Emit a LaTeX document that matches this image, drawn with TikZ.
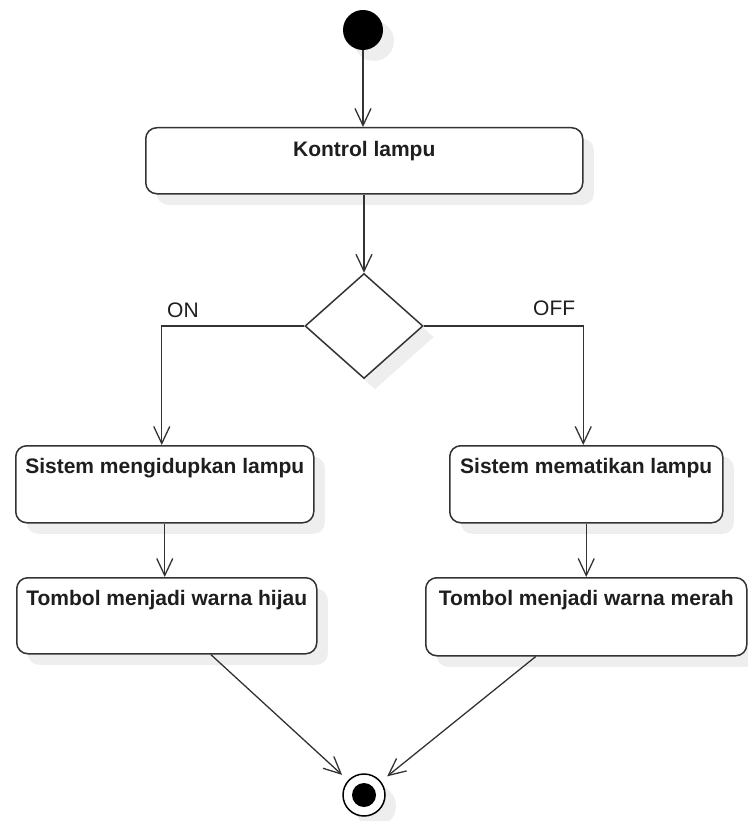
\documentclass[tikz,border=0pt]{standalone}
\usepackage{fontspec}
\setmainfont{Liberation Sans}
\usetikzlibrary{shapes.geometric,arrows.meta,shadows,calc}
\definecolor{edge}{HTML}{333333}
\definecolor{shade}{HTML}{EEEEEE}
\definecolor{ink}{HTML}{1E1E1E}
\tikzset{
  softshadow/.style={general shadow={fill=shade, shadow xshift=11pt, shadow yshift=-11pt}},
  activity/.style={draw=edge, line width=1.5pt, rounded corners=11pt, fill=white,
    softshadow, inner sep=0pt, anchor=north west, text height=28pt,
    font=\fontsize{21}{25}\selectfont\bfseries, text=ink},
  flow/.style={draw=edge, line width=1.3pt,
    -{Straight Barb[length=17pt,width=16pt]}},
  guard/.style={font=\fontsize{21}{25}\selectfont, text=ink, inner sep=0pt, anchor=base west},
}
\begin{document}
\begin{tikzpicture}[x=1pt,y=-1pt]
  \useasboundingbox (0,0) rectangle (747,821);

  % initial and final states
  \node[circle, fill=black, minimum size=40pt, inner sep=0pt, softshadow] (start) at (363,30) {};
  \node[circle, draw=black, line width=1.5pt, fill=white, minimum size=42pt, inner sep=0pt, softshadow,
        path picture={\fill[black] (path picture bounding box.center) circle (12pt);}] (fin) at (364,795) {};

  % actions
  \node[activity, minimum width=437pt, text height=29pt, text depth=37pt] (kontrol) at (145,127) {Kontrol lampu};
  \node[activity, minimum width=298pt, text depth=49pt] (b1l) at (15,445) {Sistem mengidupkan lampu};
  \node[activity, minimum width=300pt, text depth=48pt] (b2l) at (16,577) {Tombol menjadi warna hijau};
  \node[activity, minimum width=273pt, text depth=49pt] (b1r) at (449,445) {Sistem mematikan lampu};
  \node[activity, minimum width=321pt, text depth=50pt] (b2r) at (425,577) {Tombol menjadi warna merah};

  % decision
  \node[diamond, draw=edge, line width=1.5pt, fill=white, minimum width=118pt, minimum height=105pt,
        inner sep=0pt, softshadow] (dec) at (364,326) {};

  % guards
  \node[guard] (on) at (167,317) {ON};
  \node[guard] (off) at (533,315) {OFF};

  % control flow
  \draw[flow] (start) -- (start |- kontrol.north);
  \draw[flow] (kontrol.south -| dec.north) -- (dec.north);
  \draw[flow] (dec.west) -| ([xshift=-3pt]b1l.north);
  \draw[flow] (dec.east) -| ([xshift=-3pt]b1r.north);
  \draw[flow] (b1l.south) -- (b1l.south |- b2l.north);
  \draw[flow] (b1r.south) -- (b1r.south |- b2r.north);
  \draw[flow, shorten >=8pt] ([xshift=44pt]b2l.south) -- (fin);
  \draw[flow, shorten >=8pt] ([xshift=-50.5pt]b2r.south) -- (fin);
\end{tikzpicture}
\end{document}
